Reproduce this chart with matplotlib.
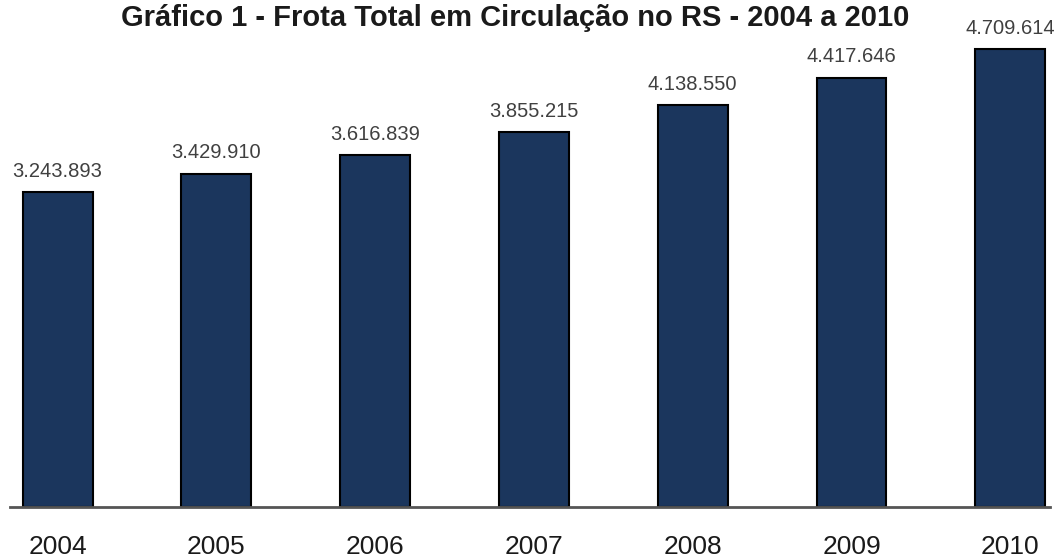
import matplotlib
matplotlib.use("Agg")
import matplotlib.pyplot as plt

anos = ["2004", "2005", "2006", "2007", "2008", "2009", "2010"]
frota = [3243893, 3429910, 3616839, 3855215, 4138550, 4417646, 4709614]
rotulos = ["3.243.893", "3.429.910", "3.616.839", "3.855.215",
           "4.138.550", "4.417.646", "4.709.614"]

plt.rcParams['font.family'] = ['Liberation Sans', 'DejaVu Sans']

fig = plt.figure(figsize=(10.58, 5.57), dpi=100)
ax = fig.add_axes([10 / 1058, 1 - 507 / 557, 1040 / 1058, 477 / 557])

x = list(range(len(anos)))
ax.bar(x, frota, width=0.44, color="#1b365d", edgecolor="black", linewidth=1.5)

# value labels above each bar
for xi, v, r in zip(x, frota, rotulos):
    ax.annotate(r, (xi, v), xytext=(0, 8), textcoords="offset points",
                ha="center", va="bottom", fontsize=14.5, color="#404040")

ax.set_xlim(-0.3, 6.25)
ax.set_ylim(0, 4907000)
ax.set_xticks(x)
ax.set_xticklabels(anos, fontsize=19, color="#1a1a1a")
ax.tick_params(axis="x", length=0, pad=20)
ax.set_yticks([])

for s in ["top", "right", "left"]:
    ax.spines[s].set_visible(False)
ax.spines["bottom"].set_color("#555555")
ax.spines["bottom"].set_linewidth(2)

fig.text(515 / 1058, 1 - 26 / 557, "Gráfico 1 - Frota Total em Circulação no RS - 2004 a 2010",
         ha="center", va="baseline", fontsize=21, fontweight="bold", color="#1a1a1a")

fig.savefig("out.png", dpi=100)
